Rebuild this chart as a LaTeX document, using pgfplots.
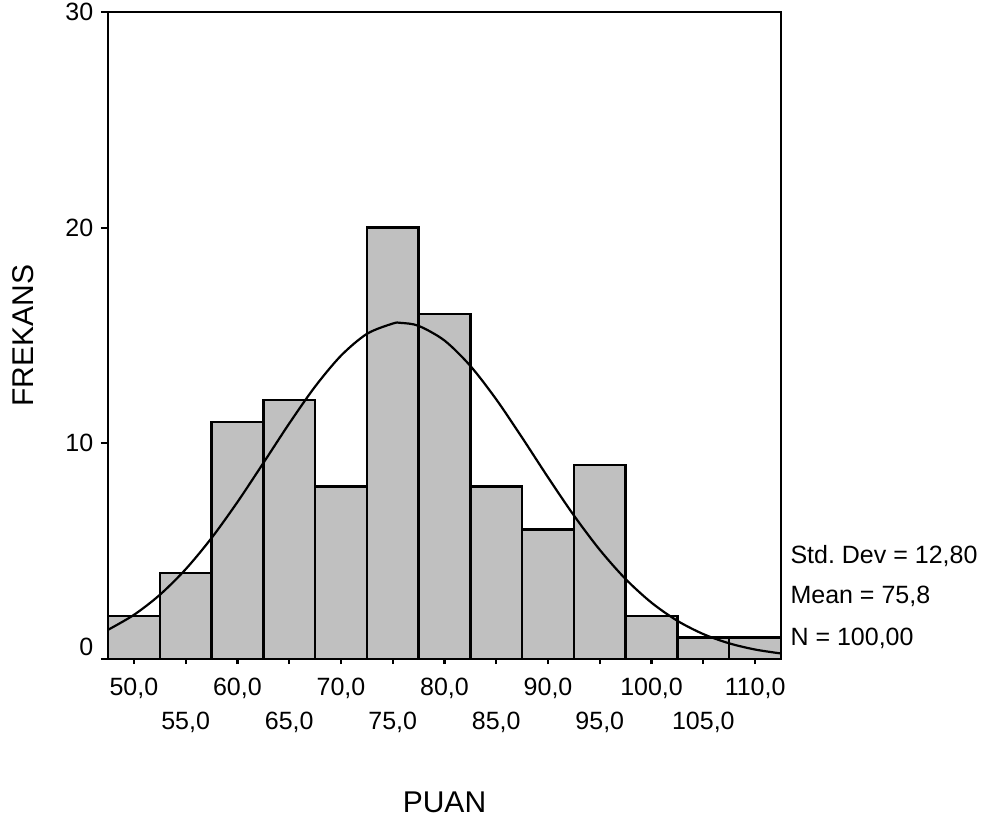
\documentclass[border=0pt]{standalone}
\usepackage{fontspec}
\setmainfont{Liberation Sans}
\usepackage{pgfplots}
\pgfplotsset{compat=1.18}
\definecolor{bargray}{RGB}{192,192,192}
\begin{document}
\frenchspacing
\fontsize{25pt}{30pt}\selectfont
\begin{tikzpicture}
\useasboundingbox (-108pt,-166pt) rectangle (880pt,659pt);
\begin{axis}[
  at={(0pt,0pt)}, anchor=south west,
  scale only axis, width=673pt, height=647pt,
  xmin=47.5, xmax=112.5, ymin=0, ymax=30,
  axis line style={line width=2.4pt},
  every tick/.style={black, line width=2.2pt},
  tick align=outside,
  xtick pos=bottom, ytick pos=left,
  x tick style={/pgfplots/major tick length=5pt},
  y tick style={/pgfplots/major tick length=7pt},
  xtick={50,60,70,80,90,100,110},
  xticklabels={{50,0},{60,0},{70,0},{80,0},{90,0},{100,0},{110,0}},
  extra x ticks={55,65,75,85,95,105},
  extra x tick labels={{55,0},{65,0},{75,0},{85,0},{95,0},{105,0}},
  extra x tick style={xticklabel style={yshift=-34pt}},
  xticklabel style={yshift=-6pt},
  yticklabel style={xshift=-2pt},
  ytick={10,20,30},
  yticklabels={10,20,30},
  extra y ticks={0},
  extra y tick labels={0},
  extra y tick style={yticklabel style={yshift=12pt}},
  xlabel={PUAN},
  xlabel style={at={(axis description cs:0.5,0)}, anchor=center, yshift=-143pt, font=\fontsize{30pt}{36pt}\selectfont},
  ylabel={FREKANS},
  ylabel style={at={(axis description cs:0,0.5)}, anchor=center, yshift=85pt, font=\fontsize{30pt}{36pt}\selectfont},
  clip=false,
]
\addplot[ybar interval, fill=bargray, draw=black, line width=2.4pt] coordinates {
  (47.5,2) (52.5,4) (57.5,11) (62.5,12) (67.5,8) (72.5,20) (77.5,16)
  (82.5,8) (87.5,6) (92.5,9) (97.5,2) (102.5,1) (107.5,1) (112.5,1)
};
\addplot[black, line width=2.2pt, smooth, mark=none] coordinates {
  (47.5,1.353) (50,2.045) (52.5,2.973) (55,4.162) (57.5,5.609) (60,7.275)
  (62.5,9.084) (65,10.917) (67.5,12.630) (70,14.063) (72.5,15.074)
  (75,15.554) (75.8,15.584) (77.5,15.447) (80,14.767) (82.5,13.589)
  (85,12.037) (87.5,10.262) (90,8.422) (92.5,6.654) (95,5.060)
  (97.5,3.703) (100,2.609) (102.5,1.769) (105,1.155) (107.5,0.726)
  (110,0.439) (112.5,0.256)
};
\node[anchor=west, xshift=1pt, yshift=103pt] at (rel axis cs:1,0) {Std. Dev = 12,80};
\node[anchor=west, xshift=1pt, yshift=63pt] at (rel axis cs:1,0) {Mean = 75,8};
\node[anchor=west, xshift=1pt, yshift=21pt] at (rel axis cs:1,0) {N = 100,00};
\end{axis}
\end{tikzpicture}
\end{document}
